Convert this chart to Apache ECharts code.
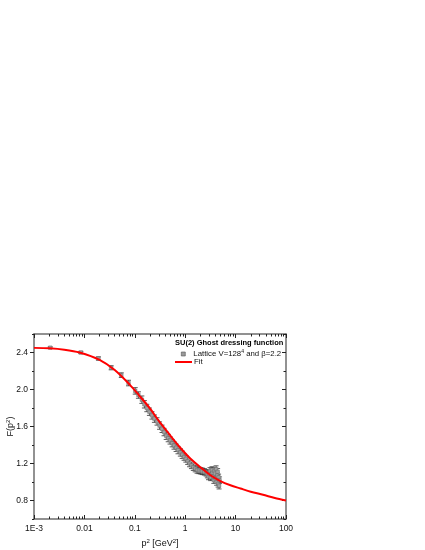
<!DOCTYPE html>
<html>
<head>
<meta charset="utf-8">
<script src="https://cdn.jsdelivr.net/npm/echarts@6/dist/echarts.min.js"></script>
<style>html,body{margin:0;padding:0;background:#fff;}#c{width:425px;height:550px;}</style>
</head>
<body>
<div id="c"></div>
<script>
// Lattice data: p^2 [GeV^2], F(p^2), error
const latticeP2 = [0.0021, 0.0085, 0.019, 0.034, 0.054, 0.075, 0.102, 0.118, 0.138, 0.155, 0.173, 0.195, 0.219, 0.245, 0.276, 0.31, 0.347, 0.38, 0.42, 0.46, 0.50, 0.55, 0.60, 0.66, 0.72, 0.80, 0.87, 0.95, 1.03, 1.12, 1.22, 1.33, 1.45, 1.58, 1.72, 1.88, 2.05, 2.2, 2.4, 2.6, 2.75, 2.9, 3.0, 3.1, 3.2, 3.3, 3.4, 3.5, 3.6, 3.7, 3.8, 3.9, 4.0, 4.1, 4.2, 4.3, 4.4, 4.5, 4.6, 4.7, 4.8];
const latticeF = [2.452, 2.400, 2.335, 2.235, 2.155, 2.07, 1.985, 1.94, 1.89, 1.84, 1.80, 1.76, 1.72, 1.685, 1.655, 1.61, 1.575, 1.54, 1.50, 1.475, 1.45, 1.42, 1.395, 1.37, 1.345, 1.32, 1.295, 1.27, 1.25, 1.225, 1.20, 1.18, 1.16, 1.145, 1.13, 1.125, 1.12, 1.115, 1.11, 1.10, 1.08, 1.06, 1.09, 1.12, 1.05, 1.08, 1.13, 1.10, 1.06, 1.02, 1.12, 1.09, 1.04, 1.14, 1.00, 1.07, 1.11, 0.98, 1.05, 0.96, 1.02];
const latticeErr = [0.008, 0.012, 0.018, 0.022, 0.025, 0.03, 0.035, 0.035, 0.04, 0.04, 0.04, 0.04, 0.04, 0.04, 0.04, 0.04, 0.04, 0.04, 0.04, 0.04, 0.04, 0.04, 0.04, 0.04, 0.04, 0.04, 0.04, 0.035, 0.035, 0.035, 0.035, 0.035, 0.035, 0.035, 0.035, 0.035, 0.035, 0.035, 0.035, 0.035, 0.035, 0.035, 0.035, 0.035, 0.035, 0.035, 0.035, 0.035, 0.035, 0.035, 0.035, 0.035, 0.035, 0.035, 0.035, 0.035, 0.035, 0.035, 0.035, 0.035, 0.035];

// Fit curve samples
const fitP2 = [0.001, 0.002, 0.004, 0.008, 0.02, 0.04, 0.08, 0.12, 0.2, 0.3, 0.5, 0.8, 1.26, 2, 3.17, 5, 7.9, 12.5, 20, 35, 60, 100];
const fitF = [2.45, 2.445, 2.43, 2.40, 2.32, 2.21, 2.05, 1.94, 1.795, 1.66, 1.506, 1.37, 1.254, 1.16, 1.073, 1.01, 0.965, 0.93, 0.895, 0.862, 0.828, 0.80];

// Axis ticks
const xMajor = [0.001, 0.01, 0.1, 1, 10, 100];
const xLabels = ['1E-3', '0.01', '0.1', '1', '10', '100'];
const xMinorMult = [2, 3, 4, 5, 6, 7, 8, 9];
const yMajor = [0.8, 1.2, 1.6, 2.0, 2.4];
const yMinor = [0.6, 1.0, 1.4, 1.8, 2.2, 2.6];

const xMinor = [];
xMajor.slice(0, -1).forEach(d => xMinorMult.forEach(m => xMinor.push(+(d * m).toPrecision(3))));

const FONT = 'Liberation Sans, Arial, sans-serif';
const AXC = '#6e6e6e';

function xAx(pos, vals, len, showLine, showLabel, extra) {
  return Object.assign({
    type: 'log', min: 0.001, max: 100, position: pos, logBase: 10,
    axisLine: { show: showLine, onZero: false, lineStyle: { color: AXC, width: 1.5 } },
    axisTick: { show: true, inside: true, length: len, customValues: vals, lineStyle: { color: '#222', width: 1 } },
    axisLabel: { show: showLabel, customValues: showLabel ? xMajor : undefined, fontFamily: FONT, fontSize: 8.5, color: '#111', margin: 5,
      formatter: v => { const i = xMajor.findIndex(m => Math.abs(m - v) / m < 1e-6); return i >= 0 ? xLabels[i] : ''; } },
    splitLine: { show: false }, minorTick: { show: false }
  }, extra || {});
}
function yAx(pos, vals, len, inside, showLine, showLabel, extra) {
  return Object.assign({
    type: 'value', min: 0.6, max: 2.6, position: pos,
    axisLine: { show: showLine, onZero: false, lineStyle: { color: AXC, width: 1.5 } },
    axisTick: { show: true, inside: inside, length: len, customValues: vals, lineStyle: { color: '#222', width: 1 } },
    axisLabel: { show: showLabel, customValues: showLabel ? yMajor : undefined, fontFamily: FONT, fontSize: 8.5, color: '#111', margin: 6,
      formatter: v => v.toFixed(1) },
    splitLine: { show: false }
  }, extra || {});
}

const latticeData = latticeP2.map((p, i) => [p, latticeF[i]]);
const errData = latticeP2.map((p, i) => [p, latticeF[i] - latticeErr[i], latticeF[i] + latticeErr[i]]);
const fitData = fitP2.map((p, i) => [p, fitF[i]]);

const chart = echarts.init(document.getElementById('c'), null, { renderer: 'canvas' });
chart.setOption({
  animation: false,
  backgroundColor: '#fff',
  textStyle: { fontFamily: FONT },
  grid: { left: 34, right: 139, top: 334, bottom: 31, containLabel: false, outerBoundsMode: 'none' },
  title: {
    text: 'SU(2) Ghost dressing function', left: 175, top: 339, padding: 0,
    textStyle: { fontFamily: FONT, fontSize: 7.5, fontWeight: 'bold', color: '#000' }
  },
  legend: [
    { data: ['Lattice'], left: 181, top: 349, padding: 0, orient: 'vertical', itemWidth: 4, itemHeight: 4, icon: 'rect',
      itemStyle: { color: '#9a9a9a', borderColor: '#555', borderWidth: 0.6 },
      textStyle: { fontFamily: FONT, fontSize: 7.8, color: '#111', padding: [0, 0, 0, 3], rich: { sup: { fontSize: 5, padding: [0, 0, 5, 0] } } },
      formatter: () => 'Lattice V=128{sup|4} and β=2.2' },
    { data: ['Fit'], left: 175, top: 358, padding: 0, orient: 'vertical', itemWidth: 17, itemHeight: 2, icon: 'rect',
      itemStyle: { color: '#ff0000' },
      textStyle: { fontFamily: FONT, fontSize: 7.8, color: '#111', padding: [0, 0, 0, -3] } }
  ],
  xAxis: [
    xAx('bottom', xMajor, 4, true, true, {
      name: 'p{sup|2} [GeV{sup|2}]', nameLocation: 'middle', nameGap: 19, nameMoveOverlap: false,
      nameTextStyle: { fontFamily: FONT, fontSize: 9, color: '#111', rich: { sup: { fontSize: 6, padding: [0, 0, 6, 0] } } }
    }),
    xAx('bottom', xMinor, 2.5, false, false),
    xAx('top', xMajor, 4, true, false),
    xAx('top', xMinor, 2.5, false, false)
  ],
  yAxis: [
    yAx('left', yMajor, 4, false, true, true, {
      name: 'F(p{sup|2})', nameLocation: 'middle', nameGap: 17, nameRotate: 90, nameMoveOverlap: false,
      nameTextStyle: { fontFamily: FONT, fontSize: 9, color: '#111', rich: { sup: { fontSize: 6, padding: [0, 0, 6, 0] } } }
    }),
    yAx('left', yMinor, 2, false, false, false),
    yAx('right', yMajor, 4, true, true, false),
    yAx('right', yMinor, 2.5, true, false, false)
  ],
  series: [
    {
      name: 'Lattice err', type: 'custom', xAxisIndex: 0, yAxisIndex: 0, data: errData,
      encode: { x: 0, y: [1, 2] }, z: 2,
      renderItem: (params, api) => {
        const x = api.value(0);
        const top = api.coord([x, api.value(2)]);
        const bot = api.coord([x, api.value(1)]);
        const w = 2.5;
        const st = { stroke: '#333', lineWidth: 0.8 };
        return { type: 'group', children: [
          { type: 'line', shape: { x1: top[0], y1: top[1], x2: bot[0], y2: bot[1] }, style: st },
          { type: 'line', shape: { x1: top[0] - w, y1: top[1], x2: top[0] + w, y2: top[1] }, style: st },
          { type: 'line', shape: { x1: bot[0] - w, y1: bot[1], x2: bot[0] + w, y2: bot[1] }, style: st }
        ] };
      }
    },
    {
      name: 'Lattice', type: 'scatter', xAxisIndex: 0, yAxisIndex: 0, data: latticeData,
      symbol: 'rect', symbolSize: 3.5, z: 3,
      itemStyle: { color: '#a0a0a0', borderColor: '#666', borderWidth: 0.5, opacity: 1 }
    },
    {
      name: 'Fit', type: 'line', xAxisIndex: 0, yAxisIndex: 0, data: fitData,
      showSymbol: false, smooth: 0.3, z: 4,
      lineStyle: { color: '#ff0000', width: 2 }, itemStyle: { color: '#ff0000' }
    }
  ]
});
</script>
</body>
</html>
